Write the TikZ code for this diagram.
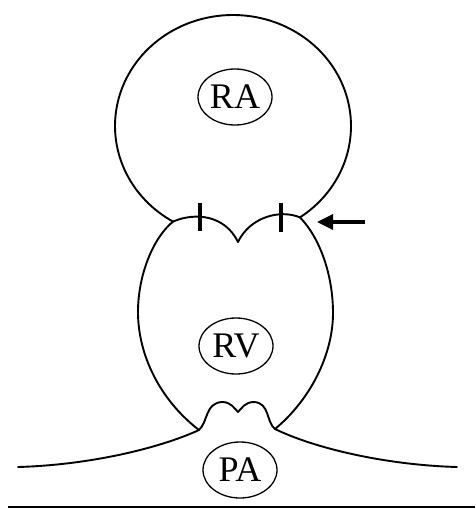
\documentclass[tikz,border=0pt]{standalone}
\usepackage{fontspec}
\setmainfont{Liberation Serif}
\usetikzlibrary{shapes.geometric,arrows.meta}
\begin{document}
\begin{tikzpicture}[x=1pt,y=-1pt,
  wall/.style={line width=1.9pt, line cap=round, line join=round},
  chamber/.style={draw, ellipse, line width=1.3pt, minimum width=74pt,
    minimum height=56pt, inner sep=0pt,
    font=\fontsize{36}{36}\selectfont},
  tick/.style={line width=3.4pt},
  pointer/.style={line width=3.4pt, -{Triangle[length=16pt,width=15pt]}}]
\useasboundingbox (0,0) rectangle (475,509);

% key points of the outline
\coordinate (lj) at (173,221.6); % left valve junction
\coordinate (rj) at (300,217.4); % right valve junction
\coordinate (notch) at (238,242);
\coordinate (lb) at (199,430);   % base of the ventricle, left
\coordinate (rb) at (275,429);   % base of the ventricle, right
\coordinate (pl) at (18,467);
\coordinate (pr) at (457,467);

% right atrium
\draw[wall] plot[domain=120.5:415.4, samples=140]
  ({233+118*cos(\x)}, {126+111*sin(\x)});

% tricuspid leaflets
\draw[wall] (lj) .. controls (195,212) and (225,215) .. (notch)
            .. controls (250,217) and (280,209) .. (rj);

% right ventricle
\draw[wall] (lj) .. controls (153,238) and (138,275) .. (138,312)
            .. controls (138,355) and (160,400) .. (lb);
\draw[wall] (rj) .. controls (320,238) and (333,275) .. (333,313)
            .. controls (333,355) and (310,400) .. (rb);

% pulmonary valve cusps
\draw[wall] (lb) .. controls (208,422) and (205,403) .. (222,402)
            .. controls (231,402) and (234,408) .. (238,412)
            .. controls (242,408) and (245,402) .. (254,402)
            .. controls (270,403) and (266,422) .. (rb);

% pulmonary artery walls
\draw[wall] (lb) .. controls (160,448) and (90,465) .. (pl);
\draw[wall] (rb) .. controls (314,448) and (385,465) .. (pr);

% ground line
\coordinate (g1) at (8,507);
\coordinate (g2) at (475,507);
\draw[line width=2.6pt] (g1) -- (g2);

% annulus marks
\coordinate (t1a) at (200,203); \coordinate (t1b) at (200,231);
\coordinate (t2a) at (281,203); \coordinate (t2b) at (281,232);
\draw[tick] (t1a) -- (t1b);
\draw[tick] (t2a) -- (t2b);

% arrow towards the annulus
\coordinate (arrtail) at (365,222);
\coordinate (arrtip) at (317,222);
\draw[pointer] (arrtail) -- (arrtip);

% chamber labels
\node[chamber] (ra) at (235,97) {RA};
\node[chamber] (rv) at (236,346) {RV};
\node[chamber] (pa) at (240,470) {PA};
\end{tikzpicture}
\end{document}
